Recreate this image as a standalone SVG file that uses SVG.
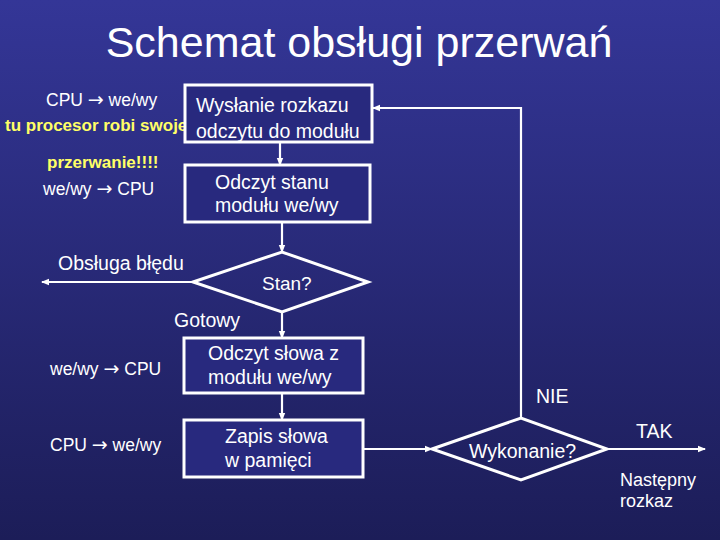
<svg xmlns="http://www.w3.org/2000/svg" width="720" height="540" viewBox="0 0 720 540">
<defs>
<linearGradient id="bg" x1="0" y1="0" x2="0" y2="1">
<stop offset="0" stop-color="#343697"/>
<stop offset="1" stop-color="#1c1d58"/>
</linearGradient>
<marker id="arr" markerWidth="8" markerHeight="8" refX="7" refY="4" orient="auto" markerUnits="userSpaceOnUse">
<path d="M0,0.8 L8,4 L0,7.2 Z" fill="#ffffff"/>
</marker>
<style>
.t{font-family:"Liberation Sans",Arial,sans-serif;fill:#ffffff}
.box{fill:#28297e;stroke:#ffffff;stroke-width:3}
.dia{fill:none;stroke:#ffffff;stroke-width:3}
.ln{fill:none;stroke:#ffffff;stroke-width:2.2}
.y{fill:#ffff66;font-weight:bold}
.a{font-family:"DejaVu Sans",sans-serif;font-size:19px}
</style>
</defs>
<rect x="0" y="0" width="720" height="540" fill="url(#bg)"/>
<text class="t" x="359" y="57" font-size="43" text-anchor="middle">Schemat obsługi przerwań</text>

<g id="side-labels" class="t" font-size="17.5">
<text x="46" y="106">CPU <tspan class="a">→</tspan> we/wy</text>
<text class="t y" x="5" y="131" font-size="17">tu procesor robi swoje</text>
<text class="t y" x="47" y="168" font-size="17">przerwanie!!!!</text>
<text x="43" y="195">we/wy <tspan class="a">→</tspan> CPU</text>
<text x="50" y="375">we/wy <tspan class="a">→</tspan> CPU</text>
<text x="50" y="451">CPU <tspan class="a">→</tspan> we/wy</text>
</g>

<g id="connectors">
<line class="ln" x1="280" y1="142" x2="280" y2="165" marker-end="url(#arr)"/>
<line class="ln" x1="282" y1="222" x2="282" y2="252" marker-end="url(#arr)"/>
<line class="ln" x1="193" y1="282" x2="42" y2="282" marker-end="url(#arr)"/>
<line class="ln" x1="282" y1="312" x2="282" y2="338" marker-end="url(#arr)"/>
<line class="ln" x1="282" y1="393" x2="282" y2="420" marker-end="url(#arr)"/>
<line class="ln" x1="363" y1="449" x2="432" y2="449" marker-end="url(#arr)"/>
<line class="ln" x1="607" y1="449" x2="705" y2="449" marker-end="url(#arr)"/>
<polyline class="ln" points="521,418 521,108 373,108" marker-end="url(#arr)"/>
</g>

<g id="n-wyslanie">
<rect class="box" x="185" y="85" width="187" height="57"/>
<text class="t" x="196" y="112" font-size="19.5">Wysłanie rozkazu</text>
<text class="t" x="196" y="138" font-size="19.5">odczytu do modułu</text>
</g>
<g id="n-odczyt-stanu">
<rect class="box" x="185" y="165" width="185" height="57"/>
<text class="t" x="215" y="189" font-size="19.5">Odczyt stanu</text>
<text class="t" x="215" y="212" font-size="19.5">modułu we/wy</text>
</g>
<g id="n-stan">
<polygon class="dia" points="193,282 282,252 368,282 282,312"/>
<text class="t" x="262" y="290" font-size="19">Stan?</text>
<text class="t" x="58" y="270" font-size="19.5">Obsługa błędu</text>
<text class="t" x="174" y="327" font-size="19.5">Gotowy</text>
</g>
<g id="n-odczyt-slowa">
<rect class="box" x="184" y="338" width="179" height="55"/>
<text class="t" x="208" y="360" font-size="19.5">Odczyt słowa z</text>
<text class="t" x="208" y="384" font-size="19.5">modułu we/wy</text>
</g>
<g id="n-zapis">
<rect class="box" x="184" y="420" width="179" height="57"/>
<text class="t" x="225" y="443" font-size="19.5">Zapis słowa</text>
<text class="t" x="225" y="467" font-size="19.5">w pamięci</text>
</g>
<g id="n-wykonanie">
<polygon class="dia" points="432,449 521,418 607,449 521,480"/>
<text class="t" x="469" y="458" font-size="19.5">Wykonanie?</text>
<text class="t" x="536" y="403" font-size="19.5">NIE</text>
<text class="t" x="636" y="438" font-size="19.5">TAK</text>
<text class="t" x="620" y="486" font-size="18">Następny</text>
<text class="t" x="620" y="507" font-size="18">rozkaz</text>
</g>
</svg>
